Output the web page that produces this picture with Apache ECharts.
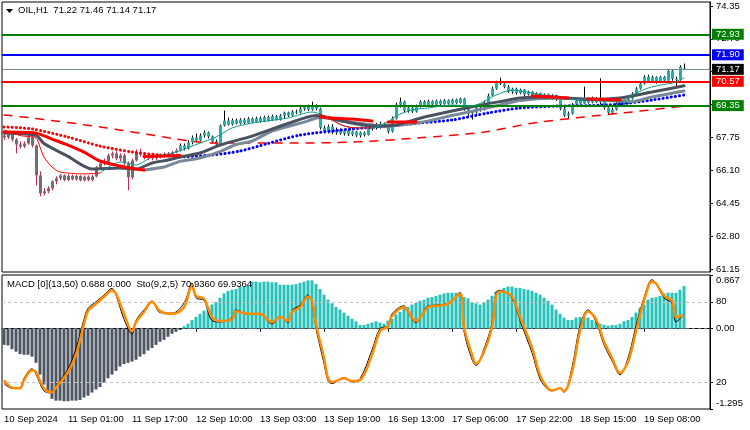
<!DOCTYPE html>
<html lang="en">
<head>
<meta charset="UTF-8">
<title>OIL,H1</title>
<script src="https://cdn.jsdelivr.net/npm/echarts@6/dist/echarts.min.js"></script>
<style>
  html, body { margin: 0; padding: 0; background: #fff; }
  #chart { width: 750px; height: 430px; }
</style>
</head>
<body>
<div id="chart"></div>
<script type="text/javascript">
// ---- values ----
var slotCount = 177;   // bar slots on the time axis (171 bars + empty right margin)
var timeTickBars = [0, 16, 32, 48, 64, 80, 96, 112, 128, 144, 160];
var timeTickLabels = ['10 Sep 2024', '11 Sep 01:00', '11 Sep 17:00', '12 Sep 10:00', '13 Sep 03:00',
  '13 Sep 19:00', '16 Sep 13:00', '17 Sep 06:00', '17 Sep 22:00', '18 Sep 15:00', '19 Sep 08:00'];
var priceTicks = [61.15, 62.80, 64.45, 66.10, 67.75, 69.40, 71.05, 72.70, 74.35];
var header = ['OIL,H1', 71.22, 71.46, 71.14, 71.17];

// horizontal levels
var levelValues = [72.93, 71.90, 71.17, 70.57, 69.35];

// open, close, low, high per bar
var ohlc = [
  [67.85,67.75,67.62,67.95],[67.75,67.90,67.68,68.00],[67.90,67.65,67.55,67.95],[67.65,67.40,66.95,67.72],
  [67.40,67.30,67.20,67.55],[67.30,67.45,67.22,67.55],[67.45,67.75,67.38,67.85],[67.75,67.35,67.25,67.85],
  [67.35,65.85,65.35,67.40],[65.85,64.95,64.80,66.05],[64.95,65.05,64.85,65.20],[65.05,65.20,64.95,65.30],
  [65.20,65.55,65.10,65.60],[65.55,65.70,65.40,65.80],[65.70,65.85,65.60,65.90],[65.85,65.62,65.55,65.90],
  [65.62,65.82,65.58,65.90],[65.82,65.65,65.60,65.88],[65.65,65.82,65.58,65.88],[65.82,65.60,65.55,65.85],
  [65.60,65.78,65.55,65.84],[65.78,65.62,65.56,65.85],[65.62,65.80,65.55,65.88],[65.80,66.25,65.75,66.30],
  [66.25,66.45,66.15,66.55],[66.45,66.55,66.35,66.70],[66.55,66.85,66.45,66.95],[66.85,66.95,66.70,67.05],
  [66.95,66.70,66.60,67.05],[66.70,66.85,66.55,66.95],[66.85,66.45,66.35,66.95],[66.45,65.75,65.10,66.55],
  [65.75,66.60,65.65,66.70],[66.60,67.00,66.55,67.15],[67.00,66.90,66.80,67.20],[66.90,66.75,66.65,67.00],
  [66.75,66.85,66.60,66.95],[66.85,66.70,66.60,66.92],[66.70,66.80,66.62,66.90],[66.80,66.78,66.70,66.88],
  [66.78,66.92,66.72,67.00],[66.92,66.85,66.78,67.02],[66.85,67.00,66.80,67.08],[67.00,67.10,66.95,67.20],
  [67.10,67.35,67.05,67.45],[67.35,67.20,67.10,67.45],[67.20,67.50,67.15,67.60],[67.50,67.75,67.40,67.85],
  [67.75,67.60,67.50,67.95],[67.60,67.85,67.55,67.95],[67.85,68.00,67.75,68.10],[68.00,67.80,67.70,68.05],
  [67.80,67.55,67.45,67.85],[67.55,67.40,67.35,67.65],[67.40,68.35,67.35,68.40],[68.35,68.60,68.30,69.10],
  [68.60,68.40,68.35,68.75],[68.40,68.62,68.35,68.70],[68.62,68.45,68.40,68.70],[68.45,68.65,68.40,68.72],
  [68.65,68.48,68.42,68.72],[68.48,68.70,68.45,68.78],[68.70,68.52,68.48,68.76],[68.52,68.72,68.48,68.80],
  [68.72,68.55,68.50,68.80],[68.55,68.78,68.52,68.85],[68.78,68.60,68.55,68.85],[68.60,68.82,68.58,68.90],
  [68.82,68.65,68.60,68.88],[68.65,68.85,68.60,68.92],[68.85,69.00,68.70,69.05],[69.00,68.85,68.78,69.05],
  [68.85,69.05,68.80,69.12],[69.05,69.00,68.92,69.15],[69.00,69.20,68.95,69.28],[69.20,69.30,69.10,69.38],
  [69.30,69.15,69.08,69.40],[69.15,69.35,69.10,69.55],[69.35,69.20,69.12,69.42],[69.20,68.25,68.15,69.25],
  [68.25,68.05,67.95,68.35],[68.05,68.30,67.95,68.40],[68.30,68.00,67.92,68.42],[68.00,68.15,67.90,68.25],
  [68.15,67.95,67.88,68.20],[67.95,68.10,67.85,68.15],[68.10,67.90,67.82,68.14],[67.90,68.05,67.82,68.10],
  [68.05,67.85,67.78,68.08],[67.85,68.00,67.75,68.05],[68.00,67.88,67.80,68.05],[67.88,68.20,67.85,68.28],
  [68.20,68.35,68.10,68.45],[68.35,68.25,68.15,68.48],[68.25,68.45,68.20,68.55],[68.45,68.30,68.22,68.50],
  [68.30,68.05,67.95,68.38],[68.05,68.70,68.00,68.80],[68.70,69.40,68.65,69.50],[69.40,69.55,69.25,69.75],
  [69.55,69.10,69.00,69.60],[69.10,69.25,69.00,69.35],[69.25,69.05,68.98,69.32],[69.05,69.30,69.00,69.40],
  [69.30,69.55,69.25,69.62],[69.55,69.38,69.30,69.62],[69.38,69.58,69.32,69.65],[69.58,69.40,69.35,69.62],
  [69.40,69.60,69.36,69.66],[69.60,69.42,69.38,69.65],[69.42,69.62,69.40,69.68],[69.62,69.45,69.40,69.66],
  [69.45,69.65,69.42,69.70],[69.65,69.48,69.44,69.70],[69.48,69.70,69.45,69.75],[69.70,69.20,69.10,69.74],
  [69.20,68.95,68.85,69.30],[68.95,69.00,68.65,69.10],[69.00,69.25,68.95,69.35],[69.25,69.15,69.05,69.30],
  [69.15,69.50,69.10,69.60],[69.50,69.85,69.45,69.95],[69.85,70.20,69.80,70.30],[70.20,70.50,70.15,70.60],
  [70.50,70.45,70.38,70.75],[70.45,70.30,70.22,70.55],[70.30,70.05,69.98,70.38],[70.05,70.20,69.95,70.25],
  [70.20,69.98,69.90,70.25],[69.98,70.15,69.92,70.20],[70.15,69.90,69.82,70.18],[69.90,70.05,69.85,70.10],
  [70.05,69.82,69.75,70.08],[69.82,69.98,69.75,70.02],[69.98,69.78,69.70,70.00],[69.78,69.92,69.72,69.96],
  [69.92,69.72,69.66,69.95],[69.72,69.88,69.64,69.92],[69.88,69.65,69.58,69.90],[69.65,69.20,69.12,69.70],
  [69.20,68.85,68.78,69.28],[68.85,68.95,68.72,69.05],[68.95,69.40,68.90,69.48],[69.40,69.60,69.35,69.72],
  [69.60,69.45,69.40,69.70],[69.45,69.65,69.42,70.30],[69.65,69.50,69.45,69.75],[69.50,69.70,69.46,69.80],
  [69.70,69.52,69.48,69.78],[69.52,69.68,69.40,70.72],[69.68,69.25,69.15,69.72],[69.25,69.00,68.90,69.30],
  [69.00,69.15,68.92,69.25],[69.15,69.45,69.10,69.52],[69.45,69.60,69.38,69.66],[69.60,69.45,69.40,69.64],
  [69.45,69.70,69.42,69.80],[69.70,69.95,69.65,70.02],[69.95,70.20,69.90,70.28],[70.20,70.45,70.15,70.55],
  [70.45,70.80,70.40,70.88],[70.80,70.55,70.50,70.90],[70.55,70.78,70.48,70.85],[70.78,70.55,70.45,70.82],
  [70.55,70.80,70.48,70.85],[70.80,70.60,70.55,70.84],[70.60,71.10,70.55,71.15],[71.10,70.70,70.60,71.18],
  [70.70,70.65,70.30,70.80],[70.65,71.30,70.60,71.38],[71.22,71.17,71.14,71.46]
];

// moving averages, [bar, price]
var maSlowDashed = [[0,68.88],[7,68.73],[24,68.28],[40,67.77],[43,67.67],[52,67.47],[72,67.47],[87,67.52],
  [103,67.72],[120,68.02],[132,68.47],[145,68.78],[157,69.03],[170,69.33]];
var maDotsRed = [[0,68.28],[7,68.18],[16,67.77],[24,67.32],[32,67.02],[39,66.87],[44,66.77]];
var maDotsBlue = [[44,66.77],[52,66.87],[59,67.07],[66,67.45],[74,67.87],[87,68.18],[99,68.38],[104,68.48],
  [112,68.63],[121,68.98],[129,69.23],[139,69.33],[146,69.35],[154,69.43],[162,69.63],[170,69.88]];
var maLight = [[35,66.12],[40,66.27],[44,66.55],[49,66.72],[54,67.04],[58,67.40],[62,67.57],[67,68.07],
  [75,68.52],[79,68.75],[87,68.52],[95,68.32],[104,68.50],[112,68.85],[120,69.20],[124,69.38],[129,69.60],
  [137,69.72],[146,69.68],[154,69.60],[157,69.55],[162,69.78],[170,70.08]];
var maDark = [[0,67.97],[8,67.85],[10,67.45],[16,66.80],[22,66.17],[29,66.22],[33,66.17],[37,66.47],
  [41,66.62],[44,66.77],[49,66.97],[54,67.37],[62,67.82],[71,68.45],[78,68.85],[85,68.55],[92,68.33],
  [98,68.38],[104,68.72],[112,69.08],[121,69.45],[124,69.55],[129,69.73],[137,69.78],[146,69.66],
  [154,69.73],[162,70.03],[170,70.35]];
var maRedThick = [
  [[0,68.02],[8,67.97],[12,67.67],[16,67.37],[20,67.02],[24,66.57],[29,66.32],[33,66.17],[35,66.12]],
  [[35,66.80],[40,66.82],[44,66.85]],
  [[79,68.78],[82,68.73],[87,68.68],[92,68.58]],
  [[96,68.53],[103,68.53]],
  [[132,69.83],[137,69.78],[141,69.73]],
  [[146,69.68],[150,69.66],[154,69.63]]
];
var maFast = [[24,65.97],[27,66.37],[29,66.52],[31,66.47],[33,66.37],[37,66.77],[43,67.02],[49,67.47],
  [53,67.77],[57,68.23],[62,68.47],[71,68.73],[77,69.03],[79,68.93],[82,68.63],[85,68.33],[88,68.23],
  [92,68.23],[96,68.53],[98,68.83],[102,69.13],[106,69.23],[112,69.38],[117,69.33],[123,69.88],[127,70.13],
  [132,69.98],[137,69.78],[140,69.68],[146,69.63],[154,69.53],[157,69.88],[161,70.23],[164,70.38],
  [167,70.48],[170,70.73]];
var maFastRed = [
  [[0,68.13],[4,67.85],[8,67.72],[9,67.27],[10,66.77],[12,66.27],[14,66.02],[20,65.92],[24,65.97]],
  [[79,68.93],[82,68.63],[85,68.33],[88,68.23],[92,68.23]]
];

// MACD(13,50) histogram
var macdLabel = { main: 0.688, signal: 0.000, top: 0.867, bottom: -1.295 };
var macd = [
  -0.26,-0.27,-0.33,-0.37,-0.41,-0.42,-0.42,-0.45,-0.55,-0.74,
  -0.90,-1.03,-1.13,-1.16,-1.16,-1.17,-1.17,-1.16,-1.16,-1.15,
  -1.11,-1.08,-1.03,-0.98,-0.94,-0.87,-0.80,-0.74,-0.68,-0.61,
  -0.57,-0.55,-0.53,-0.50,-0.45,-0.41,-0.35,-0.31,-0.26,-0.21,
  -0.18,-0.13,-0.08,-0.05,-0.02,0.04,0.08,0.14,0.19,0.24,
  0.29,0.34,0.39,0.43,0.50,0.57,0.61,0.63,0.64,0.68,
  0.68,0.70,0.76,0.76,0.75,0.76,0.76,0.75,0.75,0.71,
  0.71,0.71,0.71,0.72,0.74,0.76,0.78,0.78,0.72,0.64,
  0.55,0.47,0.41,0.35,0.31,0.26,0.21,0.16,0.12,0.06,
  0.06,0.08,0.10,0.12,0.10,0.08,0.13,0.16,0.23,0.27,
  0.33,0.35,0.39,0.42,0.45,0.47,0.50,0.51,0.53,0.55,
  0.57,0.58,0.58,0.58,0.57,0.51,0.49,0.43,0.41,0.39,
  0.42,0.47,0.53,0.60,0.63,0.66,0.68,0.68,0.66,0.66,
  0.64,0.63,0.61,0.58,0.55,0.50,0.45,0.39,0.31,0.24,
  0.18,0.14,0.14,0.18,0.19,0.19,0.18,0.14,0.12,0.08,
  0.06,0.05,0.06,0.06,0.08,0.12,0.14,0.19,0.26,0.34,
  0.39,0.47,0.50,0.51,0.53,0.57,0.58,0.58,0.58,0.63,0.688
];

// Stochastic(9,2,5)
var stochLabel = { main: 70.9360, signal: 69.9364 };
var stochLevels = [80, 20];
var stochSignal = [[0,21.5],[2,16],[4,15.4],[5,21.5],[7,29],[8,27.6],[10,15.4],[12,12.4],[13,16],[16,27.6],
  [18,40.5],[20,63.3],[21,73],[23,78.5],[25,83.8],[27,88.4],[28,86],[30,71],[32,58],[33,64.8],[35,72.4],
  [37,80],[39,73],[42,71],[45,76],[47,92],[48,84.5],[50,82.3],[52,68.6],[54,65.6],[57,67],[58,73],[61,71],
  [64,71],[67,64.8],[69,68.6],[71,65.6],[72,72.4],[74,76],[76,83.8],[77,80.8],[78,63.3],[80,38.2],[81,23],
  [82,20],[85,23],[87,20.8],[89,21.5],[92,40.5],[94,58],[96,61.8],[97,69.4],[100,76],[101,73],[103,65.6],
  [106,76],[108,77],[111,78.5],[114,86],[115,61],[117,40.5],[118,33.7],[120,42.8],[122,61],[123,84.5],
  [124,87.6],[127,83.8],[129,68.6],[132,45.8],[134,25.3],[136,15.4],[137,13.9],[139,15.4],[140,13.2],
  [142,27.6],[144,58],[146,73],[148,67],[150,50.4],[152,38.2],[154,26.8],[156,35.2],[158,58],[160,80.8],
  [162,95.2],[163,93.7],[165,84.5],[167,80.8],[168,68.6],[170,69.94]];
var stochMain = [[0,19],[2,15.5],[4,16],[5,23],[7,30],[8,26],[10,13.5],[12,12],[13,17],[16,30],[18,45],
  [20,67],[21,75],[23,80],[25,85],[27,90],[28,85],[30,67],[32,56],[33,66],[35,74],[37,80.5],[39,72],[42,71.5],
  [45,79],[47,94],[48,83],[50,81],[52,66],[54,65],[57,68],[58,74],[61,70.5],[64,70.5],[67,63.5],[69,69],
  [71,64.5],[72,73.5],[74,77.5],[76,85],[77,79],[78,60],[80,34],[81,21],[82,19],[85,23.5],[87,20],[89,22.5],
  [92,44],[94,60],[96,62],[97,71],[100,77],[101,72],[103,64.5],[106,77],[108,77.5],[111,79],[114,87],[115,58],
  [117,37],[118,32.5],[120,45],[122,64],[123,87],[124,88.5],[127,82.5],[129,66],[132,42],[134,22.5],[136,14.5],
  [137,13.5],[139,15.5],[140,12.5],[142,31],[144,62],[146,74],[148,65],[150,48],[152,36],[154,25.5],[156,38],
  [158,62],[160,83],[162,96.5],[163,93.5],[165,83],[167,79],[168,65],[170,70.94]];

// ---- chart ----
var FONT = 'Liberation Sans';
var levelColors = ['#008000', '#0000ff', '#778899', '#ff0000', '#008000'];
var levelBoxColors = ['#008000', '#0000ff', '#000000', '#ff0000', '#008000'];

var slots = [];
for (var s = 0; s < slotCount; s++) slots.push(String(s));

var candleData = ohlc.map(function (r, i) { return [i, r[0], r[1], r[2], r[3]]; });

function renderCandle(params, api) {
  var i = api.value(0);
  var pO = api.coord([i, api.value(1)]);
  var pC = api.coord([i, api.value(2)]);
  var pL = api.coord([i, api.value(3)]);
  var pH = api.coord([i, api.value(4)]);
  var early = i < 44;
  var x = Math.round(pO[0]) + 0.5;
  var top = Math.min(pO[1], pC[1]);
  var h = Math.max(Math.abs(pO[1] - pC[1]), 1);
  return {
    type: 'group',
    children: [
      { type: 'line', shape: { x1: x, y1: pH[1], x2: x, y2: pL[1] },
        style: { stroke: early ? '#c8284f' : '#000000', lineWidth: 1 } },
      { type: 'rect', shape: { x: x - 1.5, y: top, width: 3, height: h },
        style: { fill: early ? '#6f6f6f' : '#20b2aa' } }
    ]
  };
}

function line(pts, color, width, type, z, smooth) {
  return {
    type: 'line', data: pts, xAxisIndex: 0, yAxisIndex: 0, symbol: 'none',
    smooth: smooth === undefined ? 0.25 : smooth, z: z, silent: true,
    lineStyle: { color: color, width: width, type: type || 'solid', cap: 'round' }
  };
}

var series = [
  { type: 'custom', xAxisIndex: 0, yAxisIndex: 0, data: candleData, renderItem: renderCandle,
    encode: { x: 0, y: [1, 2, 3, 4] }, z: 2, silent: true },
  {
    type: 'line', data: [], xAxisIndex: 0, yAxisIndex: 0, z: 3, silent: true,
    markLine: {
      symbol: ['none', 'none'], silent: true, animation: false,
      data: levelValues.map(function (v, k) {
        return {
          yAxis: v,
          lineStyle: { color: levelColors[k], width: k === 2 ? 1 : 2, type: 'solid' },
          label: {
            show: true, position: 'end', distance: 2, formatter: v.toFixed(2),
            color: '#fff', backgroundColor: levelBoxColors[k], padding: [1, 4, 0, 4],
            fontFamily: FONT, fontSize: 9.5, lineHeight: 10
          }
        };
      })
    }
  },
  line(maSlowDashed, '#ff0000', 1.5, [8, 8], 3),
  line(maDotsRed, '#ff0000', 3, [0.1, 4], 3),
  line(maDotsBlue, '#0000ff', 3, [0.1, 4], 3),
  line(maLight, '#778899', 3, 'solid', 4),
  line(maDark, '#4a5160', 3, 'solid', 4),
  line(maFast, '#139a8c', 1, 'solid', 5)
];
maRedThick.forEach(function (seg) { series.push(line(seg, '#ff0000', 3, 'solid', 5)); });
maFastRed.forEach(function (seg) { series.push(line(seg, '#ff0000', 1, 'solid', 6)); });

series.push({
  type: 'bar', xAxisIndex: 1, yAxisIndex: 1, data: macd, barWidth: 3, silent: true, z: 2,
  itemStyle: { color: function (p) { return p.value < 0 ? '#4d5562' : '#26c1b8'; } },
  markLine: {
    symbol: ['none', 'none'], silent: true, label: { show: false },
    lineStyle: { color: '#5f6b7a', type: [3, 3], width: 1 },
    data: [{ yAxis: 0 }]
  }
});
series.push({
  type: 'line', xAxisIndex: 1, yAxisIndex: 2, data: stochMain, symbol: 'none', smooth: 0.35, z: 4, silent: true,
  lineStyle: { color: '#000000', width: 1 },
  markLine: {
    symbol: ['none', 'none'], silent: true, label: { show: false },
    lineStyle: { color: '#c0c0c0', type: [3, 3], width: 1 },
    data: stochLevels.map(function (v) { return { yAxis: v }; })
  }
});
series.push({
  type: 'line', xAxisIndex: 1, yAxisIndex: 2, data: stochSignal, symbol: 'none', smooth: 0.35, z: 5, silent: true,
  lineStyle: { color: '#ff8c00', width: 2.5 }
});

var labelStyle = { color: '#000', fontFamily: FONT, fontSize: 9.5 };

var option = {
  animation: false,
  backgroundColor: '#ffffff',
  grid: [
    { left: 2, top: 2, width: 708, height: 270, show: true, borderColor: '#000', borderWidth: 1, backgroundColor: 'transparent' },
    { left: 2, top: 275, width: 708, height: 134, show: true, borderColor: '#000', borderWidth: 1, backgroundColor: 'transparent' }
  ],
  xAxis: [
    { type: 'category', gridIndex: 0, data: slots, boundaryGap: true, show: false },
    {
      type: 'category', gridIndex: 1, data: slots, boundaryGap: true,
      axisLine: { show: true, lineStyle: { color: '#000' } },
      axisTick: { show: true, alignWithLabel: true, length: 3, lineStyle: { color: '#000' },
        interval: function (idx) { return timeTickBars.indexOf(idx) >= 0; } },
      axisLabel: Object.assign({
        interval: function (idx) { return timeTickBars.indexOf(idx) >= 0; },
        formatter: function (v, idx) { var k = timeTickBars.indexOf(idx); return k >= 0 ? timeTickLabels[k] : ''; },
        align: 'left', margin: 5
      }, labelStyle),
      splitLine: { show: false }
    }
  ],
  yAxis: [
    {
      type: 'value', gridIndex: 0, position: 'right', min: 61.0, max: 74.55, scale: true,
      splitLine: { show: false },
      axisLine: { show: true, lineStyle: { color: '#000' } },
      axisTick: { show: true, length: 3, customValues: priceTicks, lineStyle: { color: '#000' } },
      axisLabel: Object.assign({ customValues: priceTicks, margin: 6,
        formatter: function (v) { return v.toFixed(2); } }, labelStyle)
    },
    {
      type: 'value', gridIndex: 1, position: 'right', min: macdLabel.bottom, max: macdLabel.top,
      splitLine: { show: false },
      axisLine: { show: true, lineStyle: { color: '#000' } },
      axisTick: { show: true, length: 3, customValues: [macdLabel.top, 0, macdLabel.bottom], lineStyle: { color: '#000' } },
      axisLabel: Object.assign({
        customValues: [macdLabel.top, 0, macdLabel.bottom], margin: 6,
        formatter: function (v) {
          if (v === 0) return '0.00';
          if (v > 0) return '{t|' + v.toFixed(3) + '}';
          return '{b|' + v.toFixed(3) + '}';
        },
        rich: { t: { padding: [11, 0, 0, 0], fontFamily: FONT, fontSize: 9.5, color: '#000' },
                b: { padding: [0, 0, 11, 0], fontFamily: FONT, fontSize: 9.5, color: '#000' } }
      }, labelStyle)
    },
    {
      type: 'value', gridIndex: 1, position: 'right', min: 0, max: 100,
      splitLine: { show: false },
      axisLine: { show: false },
      axisTick: { show: true, length: 3, customValues: stochLevels, lineStyle: { color: '#000' } },
      axisLabel: Object.assign({ customValues: stochLevels, margin: 6 }, labelStyle)
    }
  ],
  graphic: [
    { type: 'polygon', shape: { points: [[6, 9], [13, 9], [9.5, 13]] }, style: { fill: '#000' }, z: 10 },
    { type: 'text', left: 18, top: 5, z: 10,
      style: { text: header[0] + '  ' + header.slice(1).map(function (v) { return v.toFixed(2); }).join(' '),
        fill: '#000', font: '9.5px "Liberation Sans"' } },
    { type: 'text', left: 7, top: 279, z: 10,
      style: { text: 'MACD [0](13,50) ' + macdLabel.main.toFixed(3) + ' ' + macdLabel.signal.toFixed(3) +
        '  Sto(9,2,5) ' + stochLabel.main.toFixed(4) + ' ' + stochLabel.signal.toFixed(4),
        fill: '#000', font: '9.5px "Liberation Sans"' } }
  ],
  series: series
};

var myChart = echarts.init(document.getElementById('chart'), null, { renderer: 'canvas' });
myChart.setOption(option);
</script>
</body>
</html>
